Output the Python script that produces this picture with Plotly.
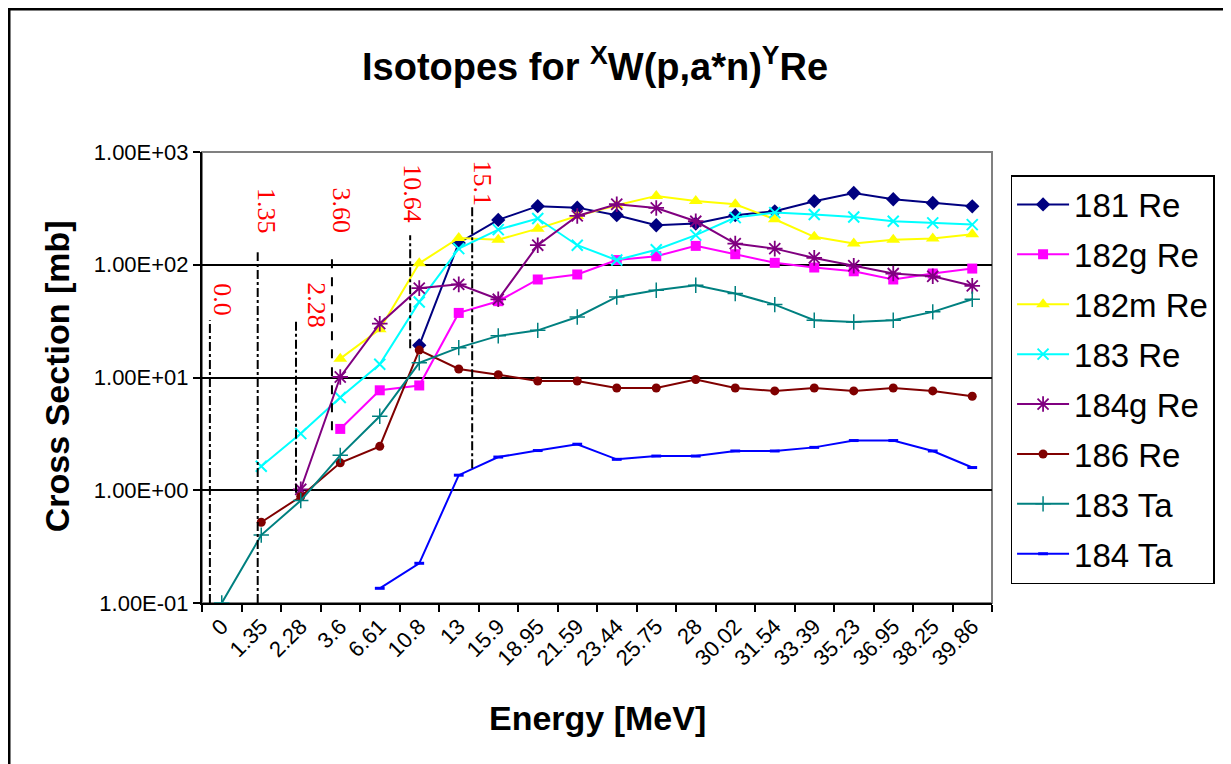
import math
import plotly.graph_objects as go

energy = ["0", "1.35", "2.28", "3.6", "6.61", "10.8", "13", "15.9", "18.95", "21.59",
          "23.44", "25.75", "28", "30.02", "31.54", "33.39", "35.23", "36.95", "38.25", "39.86"]

re181 = [None, None, None, None, None, 19.3, 156, 250, 331, 321, 275, 224, 232, 275, 298, 366, 433, 381, 353, 330]
re182g = [None, None, None, 3.5, 7.7, 8.5, 37.4, 47.5, 74, 82, 110, 119, 147, 124, 104, 94.5, 87.5, 74, 83.6, 92.5]
re182m = [None, None, None, 14.7, 26.8, 103, 173, 167, 209, 271, 337, 408, 368, 344, 253, 177, 154, 167, 171, 186]
re183 = [None, 1.63, 3.18, 6.64, 13.1, 46.8, 139, 205, 257, 149, 110, 136, 183, 262, 290, 279, 265, 243, 235, 227]
re184g = [None, None, 1.02, 10.1, 30, 62, 67, 49.4, 149, 271, 344, 319, 243, 154, 139, 115, 98, 83.6, 79, 65]
re186 = [None, 0.52, 0.88, 1.75, 2.45, 17.5, 11.9, 10.6, 9.3, 9.3, 8.07, 8.07, 9.6, 8.07, 7.6, 8.07, 7.6, 8.07, 7.6, 6.82]
ta183 = [0.1, 0.40, 0.81, 2.04, 4.53, 13.5, 18.4, 23.4, 26.2, 34.4, 51.8, 59.4, 65.8, 55.5, 44.3, 32.2, 31.1, 32.2, 38.2, 49.4]
ta184 = [None, None, None, None, 0.135, 0.225, 1.36, 1.97, 2.25, 2.56, 1.88, 2.01, 2.01, 2.23, 2.23, 2.40, 2.76, 2.76, 2.23, 1.59]

series_names = ["181 Re", "182g Re", "182m Re", "183 Re", "184g Re", "186 Re", "183 Ta", "184 Ta"]
series_values = [re181, re182g, re182m, re183, re184g, re186, ta183, ta184]

threshold_labels = ["0.0", "1.35", "2.28", "3.60", "10.64", "15.1"]

y_tickvals = [0.1, 1, 10, 100, 1000]
y_ticktext = ["1.00E-01", "1.00E+00", "1.00E+01", "1.00E+02", "1.00E+03"]

styles = [
    dict(color="#000080", symbol="diamond", size=11, lw=0),
    dict(color="#FF00FF", symbol="square", size=10, lw=0),
    dict(color="#FFFF00", symbol="triangle-up", size=12, lw=0),
    dict(color="#00FFFF", symbol="x-thin", size=11, lw=2),
    dict(color="#800080", symbol="asterisk", size=13, lw=1.8),
    dict(color="#800000", symbol="circle", size=9, lw=0),
    dict(color="#008080", symbol="cross-thin", size=11, lw=1.5),
    dict(color="#0000FF", symbol="line-ew", size=7, lw=3),
]

fig = go.Figure()
for i, (name, vals) in enumerate(zip(series_names, series_values)):
    s = styles[i]
    fig.add_trace(go.Scatter(
        x=energy, y=vals, name=name, mode="lines+markers",
        legendgroup=name,
        connectgaps=False,
        line=dict(color=s["color"], width=2),
        marker=dict(symbol=s["symbol"], size=s["size"], color=s["color"],
                    line=dict(color=s["color"], width=s["lw"])),
    ))

# threshold line layout (category-index positions, value extents)
thr_x = [-0.30, 0.91, 1.88, 2.79, 4.77, 6.34]
thr_y0 = [0.1, 0.1, 0.95, 3.4, 18.2, 1.57]
thr_y1 = [32.2, 129, 32.2, 129, 183, 330]
thr_dash = ["dashdot", "dashdot", "dashdot", "dash", "dashdot", "dashdot"]
lab_x = [0.03, 1.15, 2.41, 3.04, 4.84, 6.61]
lab_y = [48.4, 298, 43.7, 304, 422, 528]

shapes = []
annotations = []
for i, t in enumerate(threshold_labels):
    shapes.append(dict(type="line", xref="x", yref="y", x0=thr_x[i], x1=thr_x[i],
                       y0=thr_y0[i], y1=thr_y1[i],
                       line=dict(color="black", width=2, dash=thr_dash[i])))
    annotations.append(dict(x=lab_x[i], y=math.log10(lab_y[i]), xref="x", yref="y",
                            text=t, showarrow=False, textangle=90,
                            font=dict(family="Liberation Serif", size=26, color="red")))

# plot area border (gray top/right)
shapes.append(dict(type="rect", xref="paper", yref="paper", x0=0, x1=1, y0=0, y1=1,
                   line=dict(color="#808080", width=2), layer="below"))
# outer chart border
shapes.append(dict(type="rect", xref="paper", yref="paper", x0=-0.2443, x1=1.32, y0=-0.40, y1=1.317,
                   line=dict(color="black", width=3)))

annotations.append(dict(x=0.497, y=1.196, xref="paper", yref="paper", showarrow=False,
                        text="<b>Isotopes for <sup>X</sup>W(p,a*n)<sup>Y</sup>Re</b>",
                        font=dict(family="Liberation Sans", size=38, color="black"),
                        yanchor="middle"))
annotations.append(dict(x=0.5, y=-0.255, xref="paper", yref="paper", showarrow=False,
                        text="<b>Energy [MeV]</b>", yanchor="middle",
                        font=dict(family="Liberation Sans", size=34, color="black")))
annotations.append(dict(x=-0.1835, y=0.503, xref="paper", yref="paper", showarrow=False,
                        text="<b>Cross Section [mb]</b>", textangle=-90, xanchor="center",
                        font=dict(family="Liberation Sans", size=34, color="black")))

fig.update_layout(
    width=1223, height=756,
    margin=dict(l=194, r=239, t=144, b=161, autoexpand=False),
    paper_bgcolor="white", plot_bgcolor="white",
    showlegend=True,
    legend=dict(x=1.0235, y=0.949, xanchor="left", yanchor="top",
                bordercolor="black", borderwidth=1.5, bgcolor="white",
                font=dict(family="Liberation Sans", size=33, color="black"),
                tracegroupgap=4, itemwidth=52),
    shapes=shapes, annotations=annotations,
    font=dict(family="Liberation Sans", color="black"),
)
fig.update_xaxes(type="category", range=[-0.5, 19.5], showgrid=False,
                 showline=True, linecolor="black", linewidth=2,
                 ticks="outside", tickson="boundaries", ticklen=7, tickwidth=2, tickcolor="black",
                 tickangle=-45, tickfont=dict(family="Liberation Sans", size=22, color="black"))
fig.update_yaxes(type="log", range=[-1, 3], showgrid=True, gridcolor="black", gridwidth=2,
                 showline=True, linecolor="black", linewidth=2,
                 tickvals=y_tickvals, ticktext=y_ticktext,
                 ticks="outside", ticklen=7, tickwidth=2, tickcolor="black",
                 tickfont=dict(family="Liberation Sans", size=22, color="black"))

fig.write_html("out.html")
